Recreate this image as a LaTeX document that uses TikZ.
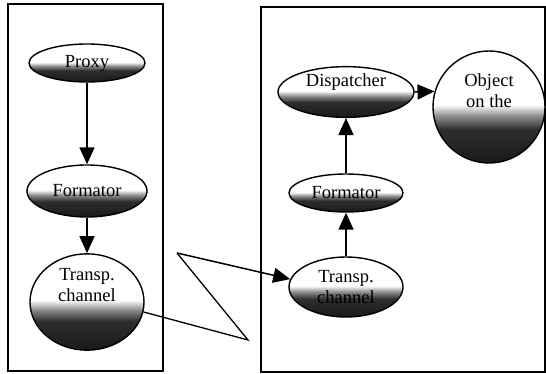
\documentclass[tikz,border=0pt]{standalone}
\usepackage{fontspec}
\setmainfont{Liberation Serif}
\usetikzlibrary{shapes.geometric,arrows.meta}
\pgfdeclareverticalshading{speck}{100bp}{color(0bp)=(black!90); color(25bp)=(black!90); color(40bp)=(black!82); color(46bp)=(black!45); color(51bp)=(white); color(100bp)=(white)}
\begin{document}
\begin{tikzpicture}[x=1pt,y=-1pt,
  panel/.style={draw=black,line width=1.1pt},
  oval/.style={ellipse,draw=black,line width=1.4pt,shading=speck,inner sep=0pt,align=center,
    font=\fontsize{18.5}{21}\selectfont},
  conn/.style={line width=1.5pt,-{Triangle[length=17pt,width=15pt]}},
  wire/.style={line width=1.3pt}]
\useasboundingbox (0,0) rectangle (546,374);
\draw[panel] (8,4) rectangle (163,371);
\draw[panel] (261,7) rectangle (545,372);
% left column
\node[oval,minimum width=116pt,minimum height=38pt] (P) at (87,63) {Proxy};
\node[oval,minimum width=120pt,minimum height=52pt] (F) at (87,191) {Formator};
\node[oval,minimum width=114pt,minimum height=92pt] (T) at (87,302) {Transp.\\channel\\[14pt]};
\draw[conn] (P) -- (F);
\draw[conn] (F) -- (T);
% right column
\node[oval,minimum width=136pt,minimum height=47pt] (D) at (346,92) {Dispatcher\\[2pt]};
\node[oval,minimum width=114pt,minimum height=38pt] (F2) at (346,193) {Formator};
\node[oval,minimum width=114pt,minimum height=60pt] (T2) at (346,287) {Transp.\\channel};
\node[circle,draw=black,line width=1.4pt,shading=speck,inner sep=0pt,minimum size=112pt,
  align=center,font=\fontsize{18.5}{21}\selectfont] (O) at (489,107) {Object\\on the\\[12pt]};
\draw[conn] (T2) -- (F2);
\draw[conn] (F2) -- (D);
\draw[conn] (D.east) -- (O.164);
% crossing connector
\coordinate (c1) at (248,340);
\coordinate (c2) at (177,253);
\draw[wire] (T.-10) -- (c1) -- (c2);
\draw[conn] (c2) -- (T2.172);
\end{tikzpicture}
\end{document}
